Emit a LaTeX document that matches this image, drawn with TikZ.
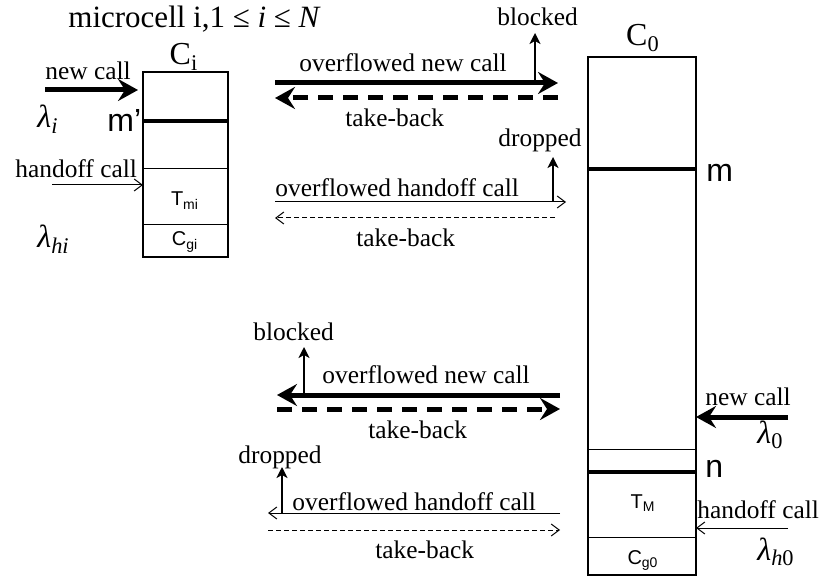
\documentclass[tikz,border=0pt]{standalone}
\usepackage{fontspec}
\setmainfont{Liberation Serif}
\newfontfamily\celsans{Liberation Sans}
\usetikzlibrary{arrows.meta}
\tikzset{
  cel box/.style={draw=black, line width=0.7pt},
  cel sep/.style={draw=black, line width=0.5pt},
  cel level/.style={draw=black, line width=2pt},
  cel fat/.style={draw=black, line width=2.5pt, -{Stealth[length=10pt,width=11pt,inset=3.5pt]}},
  cel fat dash/.style={cel fat, dash pattern=on 7.5pt off 5pt},
  cel thin/.style={draw=black, line width=0.5pt, -{Straight Barb[length=4pt,width=6pt]}},
  cel thin dash/.style={cel thin, dash pattern=on 2.5pt off 1.5pt},
  cel up/.style={draw=black, line width=1pt, -{Stealth[length=5.5pt,width=5.5pt,inset=1.5pt]}},
  cel label/.style={font=\fontsize{12.7}{14}\selectfont, inner sep=0pt, anchor=base west},
  cel title/.style={font=\fontsize{15.5}{18}\selectfont, inner sep=0pt, anchor=base west},
  cel name/.style={font=\fontsize{16}{18}\selectfont, inner sep=0pt, anchor=base},
  cel rate/.style={font=\fontsize{16}{18}\selectfont\itshape, inner sep=0pt, anchor=base west},
  cel mark/.style={font=\celsans\fontsize{16}{18}\selectfont, inner sep=0pt, anchor=base west},
  cel small/.style={font=\celsans\fontsize{10}{11}\selectfont, inner sep=0pt, anchor=base},
}
\begin{document}
\begin{tikzpicture}[x=0.5pt,y=-0.5pt]
\useasboundingbox (0,0) rectangle (822,576);
% microcell C_i
\draw[cel box](143,72)rectangle(228,257);
\draw[cel level](143,121)--(228,121);
\draw[cel sep](143,169)--(228,169);
\draw[cel sep](143,225)--(228,225);
\node[cel title](title)at(68,28){microcell i,1 ≤ \textit{i} ≤ \textit{N}};
\node[cel name](nameI)at(184,65){C\textsubscript{i}};
\node[cel label](newI)at(45,80){new call};
\node[cel rate](lamI)at(37,128){λ\textsubscript{i}};
\node[cel mark](mI)at(107,132){m’};
\node[cel label](hoI)at(15,178){handoff call};
\node[cel small](tmi)at(185,206){T\textsubscript{mi}};
\node[cel rate](lamHI)at(37,248){λ\textsubscript{hi}};
\node[cel small](cgi)at(185,246){C\textsubscript{gi}};
\coordinate(newIs)at(45,90);\coordinate(newIe)at(138,90);
\coordinate(hoIs)at(52,185);\coordinate(hoIe)at(143,185);
\draw[cel fat](newIs)--(newIe);
\draw[cel thin](hoIs)--(hoIe);
% macrocell C_0
\draw[cel box](588,57)rectangle(696,575);
\draw[cel level](588,169)--(696,169);
\draw[cel sep](588,449)--(696,449);
\draw[cel level](588,472)--(696,472);
\draw[cel sep](588,537)--(696,537);
\node[cel name](nameO)at(643,46){C\textsubscript{0}};
\node[cel mark](mO)at(706,182){m};
\node[cel label](newO)at(705,405){new call};
\node[cel rate](lamO)at(757,443){λ\textsubscript{\upshape 0}};
\node[cel mark](nO)at(705,477){n};
\node[cel small](tM)at(643,508){T\textsubscript{M}};
\node[cel label](hoO)at(697,518){handoff call};
\node[cel rate](lamHO)at(757,560){λ\textsubscript{h\upshape 0}};
\node[cel small](cg0)at(643,564){C\textsubscript{g0}};
\coordinate(newOs)at(788,417);\coordinate(newOe)at(696,417);
\coordinate(hoOs)at(788,528);\coordinate(hoOe)at(696,528);
\draw[cel fat](newOs)--(newOe);
\draw[cel thin](hoOs)--(hoOe);
% overflow from C_i to C_0
\node[cel label](blkA)at(497,26){blocked};
\node[cel label](ovNA)at(299,72){overflowed new call};
\node[cel label](tbA)at(345,127){take-back};
\node[cel label](drA)at(498,147){dropped};
\node[cel label](ovHA)at(275,197){overflowed handoff call};
\node[cel label](tbB)at(356,247){take-back};
\coordinate(fatAw)at(275,83);\coordinate(fatAe)at(558,83);
\coordinate(dshAw)at(275,98);\coordinate(dshAe)at(558,98);
\coordinate(blkAs)at(535,83);\coordinate(blkAe)at(535,33);
\coordinate(thnAw)at(275,202);\coordinate(thnAe)at(566,202);
\coordinate(tdsAw)at(275,218);\coordinate(tdsAe)at(555,218);
\coordinate(drAs)at(553,202);\coordinate(drAe)at(553,157);
\draw[cel fat](fatAw)--(fatAe);
\draw[cel fat dash](dshAe)--(dshAw);
\draw[cel up](blkAs)--(blkAe);
\draw[cel thin](thnAw)--(thnAe);
\draw[cel thin dash](tdsAe)--(tdsAw);
\draw[cel up](drAs)--(drAe);
% overflow from C_0 to C_i
\node[cel label](blkB)at(253,341){blocked};
\node[cel label](ovNB)at(322,383){overflowed new call};
\node[cel label](tbC)at(368,438){take-back};
\node[cel label](drB)at(238,463){dropped};
\node[cel label](ovHB)at(292,510){overflowed handoff call};
\node[cel label](tbD)at(375,558){take-back};
\coordinate(fatBw)at(277,395);\coordinate(fatBe)at(560,395);
\coordinate(dshBw)at(277,409);\coordinate(dshBe)at(560,409);
\coordinate(blkBs)at(304,395);\coordinate(blkBe)at(304,347);
\coordinate(thnBw)at(268,513);\coordinate(thnBe)at(560,513);
\coordinate(tdsBw)at(268,530);\coordinate(tdsBe)at(560,530);
\coordinate(drBs)at(282,513);\coordinate(drBe)at(282,467);
\draw[cel fat](fatBe)--(fatBw);
\draw[cel fat dash](dshBw)--(dshBe);
\draw[cel up](blkBs)--(blkBe);
\draw[cel thin](thnBe)--(thnBw);
\draw[cel thin dash](tdsBw)--(tdsBe);
\draw[cel up](drBs)--(drBe);
\end{tikzpicture}
\end{document}
